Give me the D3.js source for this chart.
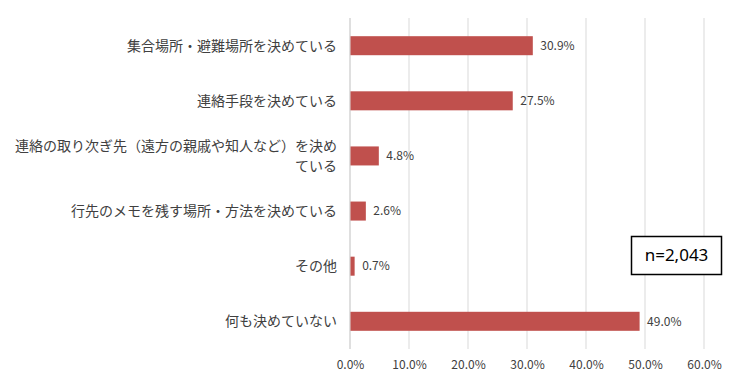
<!DOCTYPE html>
<html><head><meta charset="utf-8">
<script src="https://cdn.jsdelivr.net/npm/d3@7"></script>
<style>
html,body{margin:0;padding:0;background:#fff;}
svg{display:block;font-family:"Noto Sans CJK JP","Noto Sans",sans-serif;}
</style></head>
<body>
<svg id="chart" width="740" height="384"></svg>
<script>
const categories = [
  ["集合場所・避難場所を決めている"],
  ["連絡手段を決めている"],
  ["連絡の取り次ぎ先（遠方の親戚や知人など）を決め", "ている"],
  ["行先のメモを残す場所・方法を決めている"],
  ["その他"],
  ["何も決めていない"]
];
const values = [30.9, 27.5, 4.8, 2.6, 0.7, 49.0];
const tickValues = [0, 10, 20, 30, 40, 50, 60];
const sampleNote = "n=2,043";

const svg = d3.select("#chart");
const margin = {left: 350, right: 36, top: 18, bottom: 35};
const W = 740, H = 384;
const x = d3.scaleLinear().domain([0, 60]).range([margin.left, W - margin.right]);
const y = d3.scaleBand().domain(d3.range(categories.length))
  .range([margin.top, H - margin.bottom]).paddingInner(0.655).paddingOuter(0.33);

// gridlines
svg.append("g").selectAll("line").data(tickValues.slice(1)).join("line")
  .attr("x1", d => x(d)).attr("x2", d => x(d))
  .attr("y1", margin.top).attr("y2", H - margin.bottom)
  .attr("stroke", "#d9d9d9").attr("stroke-width", 1);

// axis line
svg.append("line").attr("x1", x(0)).attr("x2", x(0))
  .attr("y1", margin.top).attr("y2", H - margin.bottom)
  .attr("stroke", "#bfbfbf").attr("stroke-width", 1);

// tick labels
const xAxis = d3.axisBottom(x).tickValues(tickValues).tickSize(0).tickFormat(d => d.toFixed(1) + "%");
const gx = svg.append("g").attr("transform", `translate(0,${H - margin.bottom + 8})`).call(xAxis);
gx.select(".domain").remove();
gx.selectAll("text").attr("font-size", 12).attr("fill", "#404040")
  .attr("font-family", "\"Noto Sans CJK JP\",sans-serif");

// bars
svg.append("g").selectAll("rect").data(values).join("rect")
  .attr("x", x(0) + 0.5).attr("y", (d, i) => y(i))
  .attr("width", d => x(d) - x(0)).attr("height", y.bandwidth())
  .attr("fill", "#C0504D");

// value labels
svg.append("g").selectAll("text").data(values).join("text")
  .attr("x", d => x(d) + 8).attr("y", (d, i) => y(i) + y.bandwidth() / 2)
  .attr("dy", "0.35em").attr("font-size", 12).attr("fill", "#404040")
  .text(d => d.toFixed(1) + "%");

// category labels (one text element per line)
const lineGap = 19.5;
const labelLines = [];
categories.forEach((lines, i) => {
  const n = lines.length;
  lines.forEach((ln, k) => labelLines.push({i, ln, off: (k - (n - 1) / 2) * lineGap}));
});
svg.append("g").selectAll("text").data(labelLines).join("text")
  .attr("text-anchor", "end").attr("font-size", 14).attr("fill", "#404040")
  .attr("x", 337)
  .attr("y", d => y(d.i) + y.bandwidth() / 2 + d.off + 5)
  .text(d => d.ln);

// n box
const bx = 631, by = 236, bw = 90, bh = 38;
svg.append("rect").attr("x", bx + 0.5).attr("y", by + 0.5).attr("width", bw).attr("height", bh)
  .attr("fill", "#fff").attr("stroke", "#000").attr("stroke-width", 1.5);
svg.append("text").attr("x", bx + bw / 2 + 0.5).attr("y", by + bh / 2 + 6)
  .attr("text-anchor", "middle").attr("font-size", 17).attr("fill", "#000")
  .attr("font-family", "\"Noto Sans\",sans-serif")
  .text(sampleNote);
</script>
</body></html>
